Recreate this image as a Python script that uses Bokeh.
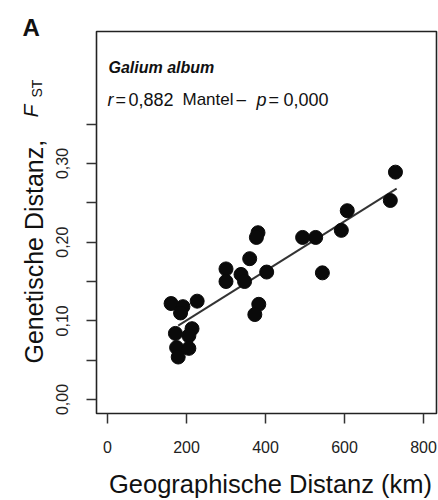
import math
from bokeh.plotting import figure
from bokeh.models import Range1d, Label, FixedTicker
from bokeh.embed import file_html
from bokeh.resources import INLINE

# ---- data ----
dist_km = [729, 716, 607, 592, 527, 494, 381, 377, 360, 403, 544, 300, 300, 338,
           347, 383, 373, 161, 191, 185, 227, 172, 214, 206, 175, 206, 179]
fst = [0.289, 0.253, 0.240, 0.215, 0.206, 0.206, 0.212, 0.206, 0.179, 0.162,
       0.161, 0.166, 0.150, 0.159, 0.150, 0.121, 0.108, 0.122, 0.118, 0.110,
       0.125, 0.084, 0.090, 0.081, 0.066, 0.065, 0.054]
fit_x = [179, 732]
fit_y = [0.094, 0.268]

x_ticks = [0, 200, 400, 600, 800]
y_ticks = [0.0, 0.05, 0.10, 0.15, 0.20, 0.25, 0.30, 0.35]
y_tick_labels = {0.0: "0,00", 0.05: "", 0.10: "0,10", 0.15: "", 0.20: "0,20",
                 0.25: "", 0.30: "0,30", 0.35: ""}

# plotting-box limits (data units) and layout in pixels
X_LO, X_HI = -27.8, 832.9
Y_LO, Y_HI = -0.0178, 0.4678
W, H = 438, 500
BOX_L, BOX_R, BOX_T, BOX_B = 96, 436, 31, 413

kx = (BOX_R - BOX_L) / (X_HI - X_LO)
ky = (BOX_B - BOX_T) / (Y_HI - Y_LO)
x_range = Range1d(X_LO - BOX_L / kx, X_HI + (W - BOX_R) / kx)
y_range = Range1d(Y_LO - (H - BOX_B) / ky, Y_HI + BOX_T / ky)

FONT = "Liberation Sans"

p = figure(frame_width=W, frame_height=H, min_border=0,
           x_range=x_range, y_range=y_range,
           output_backend="svg", toolbar_location=None)
p.background_fill_color = "white"
p.border_fill_color = "white"
p.outline_line_color = None
p.xgrid.visible = False
p.ygrid.visible = False

p.xaxis.ticker = FixedTicker(ticks=x_ticks)
p.yaxis.ticker = FixedTicker(ticks=y_ticks)
p.yaxis.major_label_overrides = y_tick_labels
p.xaxis.fixed_location = Y_LO
p.yaxis.fixed_location = X_LO
for ax in (p.xaxis, p.yaxis):
    ax.axis_line_color = None
    ax.major_tick_in = 0
    ax.major_tick_out = 10
    ax.minor_tick_line_color = None
    ax.major_tick_line_color = "#333333"
    ax.major_tick_line_width = 1.5
    ax.major_label_text_font = FONT
    ax.major_label_text_font_size = "16px"
    ax.major_label_text_color = "#222222"
p.xaxis.major_label_standoff = 17
p.yaxis.major_label_standoff = 18
p.yaxis.major_label_orientation = "vertical"

# plotting box
p.quad(left=[X_LO], right=[X_HI], bottom=[Y_LO], top=[Y_HI],
       fill_color=None, line_color="#222222", line_width=1.6)

p.line(fit_x, fit_y, line_color="#333333", line_width=2)
p.scatter(dist_km, fst, size=14, marker="circle", fill_color="#0a0a0a", line_color="#0a0a0a")

# ---- texts ----
def lab(text, x, y, size, style="normal", align="left", angle=0.0):
    # (x, y) measured from the top-left corner, y downward
    p.add_layout(Label(x=x, y=H - y, x_units="screen", y_units="screen", text=text,
                       text_font=FONT, text_font_size=size, text_font_style=style,
                       text_align=align, text_baseline="alphabetic", angle=angle,
                       text_color="#111111"))

lab("A", 22, 27, "24px", "bold")
lab("Galium album", 108, 67, "16px", "bold italic")
lab("r", 107, 99, "18px", "italic")
lab("=", 115, 99, "18px")
lab("0,882", 128, 99, "18px")
lab("Mantel", 182, 99, "17px")
lab("\u2013", 236, 99, "17px")
lab("p", 256, 99, "18px", "italic")
lab("=", 268, 99, "18px")
lab("0,000", 283, 99, "18px")

lab("Geographische Distanz (km)", 270, 483, "25.5px", align="center")
lab("Genetische Distanz,", 33, 363, "25px", angle=math.pi / 2)
lab("F", 30, 117, "21px", "italic", angle=math.pi / 2)
lab("ST", 36, 97, "14px", angle=math.pi / 2)

open("out.html", "w").write(file_html(p, INLINE))
